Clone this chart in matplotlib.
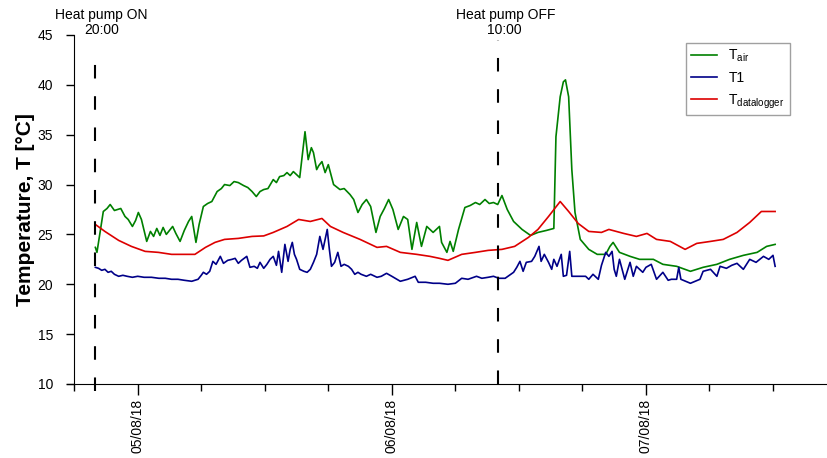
import matplotlib
matplotlib.use("Agg")
import matplotlib.pyplot as plt
import numpy as np

plt.rcParams['font.family'] = ['Liberation Sans', 'DejaVu Sans']

# hours relative to 05/08/18 00:00
t_air = [-4.0, -3.85, -3.25, -2.9, -2.6, -2.2, -1.6, -1.2, -0.9, -0.5, -0.2, 0.06, 0.35, 0.85,
         1.2, 1.5, 1.8, 2.1, 2.4, 2.7, 3.0, 3.3, 3.6, 4.0, 4.4, 4.8, 5.1, 5.5, 5.8, 6.2, 6.6,
         7.0, 7.5, 7.9, 8.2, 8.7, 9.1, 9.5, 10.0, 10.4, 10.8, 11.2, 11.55, 11.9, 12.3, 12.8,
         13.1, 13.4, 13.8, 14.1, 14.4, 14.7, 15.0, 15.3, 15.8, 16.1, 16.4, 16.6, 16.9, 17.1,
         17.4, 17.7, 18.0, 18.5, 19.1, 19.5, 20.05, 20.4, 20.8, 21.2, 21.6, 22.0, 22.5, 22.9,
         23.3, 23.7, 24.1, 24.6, 25.1, 25.5, 25.9, 26.35, 26.8, 27.3, 27.9, 28.5, 28.7, 29.2,
         29.5, 29.8, 30.3, 30.9, 31.4, 31.9, 32.3, 32.8, 33.2, 33.6, 34.0, 34.4, 34.9, 35.5,
         36.3, 37.1, 37.8, 38.6, 39.3, 39.5, 39.9, 40.2, 40.4, 40.7, 41.0, 41.3, 41.8, 42.6,
         43.4, 44.2, 44.6, 44.9, 45.5, 46.5, 47.4, 48.7, 49.6, 50.9, 52.2, 53.4, 54.7, 55.9,
         57.2, 58.5, 59.4, 60.2]
T_air = [23.7, 23.2, 27.3, 27.6, 28.0, 27.4, 27.6, 26.8, 26.5, 25.8, 26.4, 27.2, 26.5, 24.3,
         25.3, 24.8, 25.6, 24.9, 25.7, 25.0, 25.4, 25.8, 25.1, 24.3, 25.4, 26.3, 26.8, 24.2,
         26.0, 27.8, 28.1, 28.3, 29.3, 29.6, 30.0, 29.9, 30.3, 30.2, 29.9, 29.7, 29.3, 28.8,
         29.3, 29.5, 29.6, 30.5, 30.2, 30.8, 30.9, 31.2, 30.9, 31.3, 31.0, 30.7, 35.3, 32.5,
         33.7, 33.2, 31.5, 31.9, 32.3, 31.2, 32.0, 30.0, 29.5, 29.6, 29.0, 28.5, 27.2, 28.0,
         28.5, 27.8, 25.2, 26.8, 27.6, 28.5, 27.5, 25.5, 26.8, 26.5, 23.5, 26.2, 23.8, 25.8,
         25.2, 25.8, 24.2, 23.2, 24.3, 23.3, 25.5, 27.7, 27.9, 28.2, 28.0, 28.5, 28.1, 28.2,
         28.0, 28.9, 27.5, 26.3, 25.5, 24.9, 25.2, 25.4, 25.6, 34.8, 38.8, 40.3, 40.5, 38.8,
         31.5, 27.2, 24.5, 23.5, 23.0, 23.0, 23.8, 24.2, 23.2, 22.8, 22.5, 22.5, 22.0, 21.8,
         21.3, 21.7, 22.0, 22.5, 22.9, 23.2, 23.8, 24.0]

t_t1 = [-4.0, -3.7, -3.4, -3.1, -2.8, -2.5, -2.2, -1.8, -1.4, -1.0, -0.5, 0.0, 0.6, 1.3, 2.0,
        2.6, 3.2, 3.8, 4.4, 5.1, 5.7, 6.0, 6.2, 6.5, 6.8, 7.1, 7.4, 7.8, 8.1, 8.5, 8.9, 9.2,
        9.5, 9.8, 10.3, 10.6, 11.0, 11.3, 11.55, 11.9, 12.2, 12.5, 12.8, 13.1, 13.3, 13.6,
        13.9, 14.2, 14.4, 14.6, 14.8, 15.0, 15.3, 15.7, 16.0, 16.3, 16.6, 16.9, 17.2, 17.5,
        17.7, 17.9, 18.1, 18.3, 18.6, 18.9, 19.2, 19.5, 19.9, 20.2, 20.5, 20.8, 21.1, 21.6,
        22.0, 22.6, 23.0, 23.5, 24.0, 24.8, 25.5, 26.2, 26.5, 27.2, 27.9, 28.5, 29.3, 30.0,
        30.6, 31.2, 32.0, 32.5, 33.1, 33.6, 34.1, 34.7, 35.1, 35.5, 35.8, 36.1, 36.4, 36.7,
        37.2, 37.5, 37.9, 38.1, 38.4, 38.8, 39.1, 39.3, 39.6, 40.0, 40.2, 40.5, 40.8, 41.0,
        41.5, 41.9, 42.3, 42.6, 43.0, 43.5, 43.8, 44.2, 44.5, 44.8, 45.0, 45.2, 45.5, 46.0,
        46.5, 46.8, 47.1, 47.7, 48.0, 48.5, 49.0, 49.6, 50.1, 50.4, 50.9, 51.1, 51.3, 52.2,
        53.1, 53.4, 54.1, 54.7, 55.0, 55.6, 56.1, 56.6, 57.2, 57.8, 58.4, 59.1, 59.6, 60.0,
        60.2]
T_1 = [21.7, 21.6, 21.4, 21.5, 21.2, 21.3, 21.0, 20.8, 20.9, 20.8, 20.7, 20.8, 20.7, 20.7,
       20.6, 20.6, 20.5, 20.5, 20.4, 20.3, 20.5, 20.9, 21.2, 21.0, 21.3, 22.3, 22.0, 22.8,
       22.1, 22.4, 22.5, 22.6, 22.1, 22.4, 22.8, 21.7, 21.8, 21.6, 22.2, 21.6, 22.0, 22.5,
       22.8, 21.9, 23.3, 21.2, 24.0, 22.3, 23.5, 24.2, 23.0, 22.5, 21.5, 21.3, 21.2, 21.5,
       22.2, 23.0, 24.8, 23.5, 24.5, 25.5, 23.5, 21.8, 22.2, 23.2, 21.8, 22.0, 21.8, 21.5,
       21.0, 21.2, 21.0, 20.8, 21.0, 20.7, 20.8, 21.1, 20.8, 20.3, 20.5, 20.8, 20.2, 20.2,
       20.1, 20.1, 20.0, 20.1, 20.6, 20.5, 20.8, 20.6, 20.7, 20.8, 20.6, 20.6, 20.9, 21.2,
       21.7, 22.3, 21.3, 22.2, 22.3, 22.8, 23.8, 22.3, 23.0, 22.2, 21.5, 22.5, 21.8, 23.0,
       20.8, 20.9, 23.3, 20.8, 20.8, 20.8, 20.8, 20.5, 21.0, 20.5, 21.9, 23.2, 22.8, 23.3,
       21.5, 20.8, 22.5, 20.5, 22.2, 20.8, 21.8, 21.2, 21.7, 22.0, 20.5, 21.2, 20.4, 20.5,
       20.5, 21.7, 20.5, 20.1, 20.5, 21.3, 21.5, 20.8, 21.8, 21.6, 21.9, 22.1, 21.5, 22.5,
       22.2, 22.8, 22.5, 22.9, 21.8]

t_log = [-4.0, -3.1, -1.8, -0.6, 0.7, 1.95, 3.2, 4.5, 5.4, 6.4, 7.3, 8.2, 9.5, 10.8, 11.9,
         12.8, 14.1, 15.2, 16.3, 17.4, 18.2, 19.4, 21.0, 22.6, 23.5, 24.8, 26.35, 27.6, 28.5,
         29.3, 30.6, 31.9, 33.1, 34.4, 35.6, 36.9, 37.8, 38.8, 39.9, 40.7, 41.6, 42.6, 43.8,
         44.5, 45.9, 47.1, 48.1, 49.0, 50.3, 51.7, 52.8, 54.1, 55.3, 56.6, 57.8, 58.9, 60.2]
T_log = [26.0, 25.3, 24.4, 23.8, 23.3, 23.2, 23.0, 23.0, 23.0, 23.7, 24.2, 24.5, 24.6, 24.8,
         24.85, 25.2, 25.8, 26.5, 26.3, 26.6, 25.8, 25.2, 24.5, 23.7, 23.8, 23.2, 23.0, 22.8,
         22.6, 22.4, 23.0, 23.2, 23.4, 23.5, 23.8, 24.7, 25.5, 26.8, 28.3, 27.3, 26.1, 25.3,
         25.2, 25.5, 25.1, 24.8, 25.1, 24.5, 24.3, 23.5, 24.1, 24.3, 24.5, 25.2, 26.2, 27.3,
         27.3]

day_ticks = [0, 24, 48]
day_labels = ['05/08/18', '06/08/18', '07/08/18']
t_on, t_off = -4, 34

fig = plt.figure(figsize=(8.27, 4.58), dpi=100)
ax = fig.add_axes([0.081, 0.1616, 0.919, 0.762])

ax.plot(t_air, T_air, color='#008000', lw=1.2, label=r'T$_{\mathregular{air}}$')
ax.plot(t_t1, T_1, color='#000088', lw=1.2, label='T1')
ax.plot(t_log, T_log, color='#dd0000', lw=1.2, label=r'T$_{\mathregular{datalogger}}$')

# heat pump on / off markers
ax.plot([t_on, t_on], [9.3, 42.7], color='black', lw=1.5, dashes=(6.5, 8.5), clip_on=False)
ax.plot([t_off, t_off], [10, 44.5], color='black', lw=1.5, dashes=(6.5, 8.5), clip_on=False)
ax.text(t_on + 0.6, 46.6, 'Heat pump ON', ha='center', va='baseline', fontsize=10)
ax.text(t_on + 0.6, 45.1, '20:00', ha='center', va='baseline', fontsize=10)
ax.text(t_off + 0.8, 46.6, 'Heat pump OFF', ha='center', va='baseline', fontsize=10)
ax.text(t_off + 0.6, 45.1, '10:00', ha='center', va='baseline', fontsize=10)

ax.set_xlim(-6.68, 65.1)
ax.set_ylim(10, 45)
ax.set_yticks(np.arange(10, 46, 5))
ax.set_xticks(day_ticks)
ax.set_xticklabels(day_labels, rotation=90)
ax.set_xticks([-6, 6, 12, 18, 30, 36, 42, 54, 60], minor=True)
ax.tick_params(axis='x', which='major', length=8, width=1, labelsize=10, pad=3)
ax.tick_params(axis='x', which='minor', length=5, width=1)
ax.tick_params(axis='y', length=6, width=1, labelsize=10, pad=9)

for s in ['top', 'right']:
    ax.spines[s].set_visible(False)
ax.spines['left'].set_position(('data', -6.02))
ax.set_ylabel('Temperature, T [°C]', fontsize=15, fontweight='bold', labelpad=2)

leg = ax.legend(loc='upper left', bbox_to_anchor=(0.8295, 0.906),
                bbox_transform=fig.transFigure, fontsize=10, fancybox=False,
                edgecolor='#888888', handlelength=1.9, labelspacing=0.5,
                borderpad=0.35, borderaxespad=0, handletextpad=0.8)
leg.get_frame().set_linewidth(1)

fig.savefig('out.png', dpi=100)
